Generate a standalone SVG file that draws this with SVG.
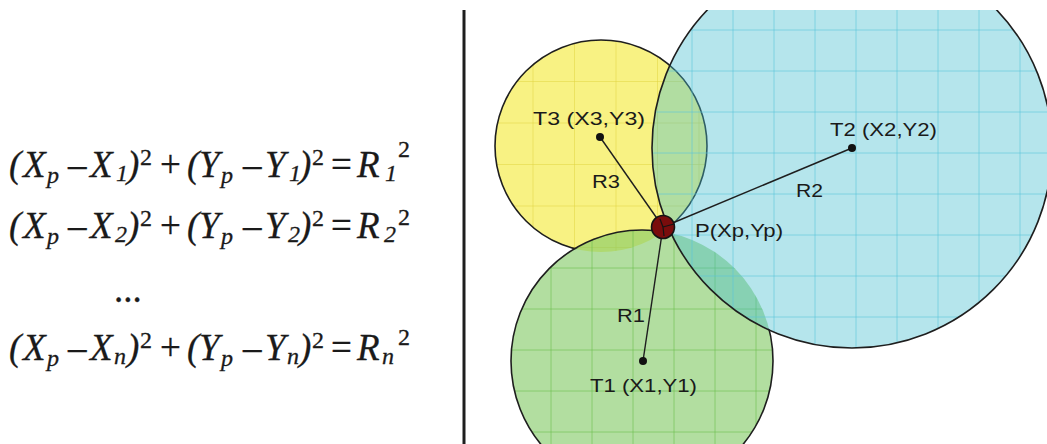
<svg xmlns="http://www.w3.org/2000/svg" width="1047" height="444" viewBox="0 0 1047 444">
<style>
.eq{font-family:"Liberation Serif","Times New Roman",serif;font-size:37px;fill:#1a1a1a;stroke:#1a1a1a;stroke-width:0.3}
.it{font-style:italic}
.sm{font-size:24px}
.lbl{font-family:"Liberation Sans",Arial,sans-serif;font-size:19px;fill:#1a1a1a}
.edge{fill:none;stroke:#1e1e1e;stroke-width:1.6}
.conn{stroke:#1e1e1e;stroke-width:1.4}
.dot{fill:#111}
</style>
<defs>
<clipPath id="clipTop"><rect x="466" y="10" width="581" height="434"/></clipPath>
<clipPath id="cY"><circle cx="601" cy="146" r="106"/></clipPath>
<clipPath id="cG"><circle cx="642" cy="361" r="131"/></clipPath>
<clipPath id="cB"><circle cx="852" cy="148" r="200"/></clipPath>
<mask id="notGreen"><rect x="0" y="0" width="1047" height="444" fill="#fff"/><circle cx="642" cy="361" r="130" fill="#000"/></mask>
<mask id="notBlue"><rect x="0" y="0" width="1047" height="444" fill="#fff"/><circle cx="852" cy="148" r="199" fill="#000"/></mask>
</defs>

<g id="equations">
<text class="eq">
<tspan class="it" x="9" y="177">(</tspan><tspan class="it" x="23" y="177">X</tspan><tspan class="it sm" x="47" y="183">p</tspan><tspan x="68" y="177">–</tspan><tspan class="it" x="90" y="177">X</tspan><tspan class="it sm" x="116" y="181">1</tspan><tspan class="it" x="127" y="177">)</tspan><tspan class="sm" x="140" y="165">2</tspan><tspan x="160" y="177">+</tspan><tspan class="it" x="187" y="177">(</tspan><tspan class="it" x="199" y="177">Y</tspan><tspan class="it sm" x="221" y="183">p</tspan><tspan x="243" y="177">–</tspan><tspan class="it" x="265" y="177">Y</tspan><tspan class="it sm" x="289" y="181">1</tspan><tspan class="it" x="299" y="177">)</tspan><tspan class="sm" x="312" y="165">2</tspan><tspan x="331" y="177">=</tspan><tspan class="it" x="357" y="177">R</tspan><tspan class="it sm" x="385" y="181">1</tspan><tspan class="sm" x="398" y="157">2</tspan>
</text>
<text class="eq">
<tspan class="it" x="9" y="238">(</tspan><tspan class="it" x="23" y="238">X</tspan><tspan class="it sm" x="47" y="244">p</tspan><tspan x="68" y="238">–</tspan><tspan class="it" x="90" y="238">X</tspan><tspan class="it sm" x="115" y="242">2</tspan><tspan class="it" x="127" y="238">)</tspan><tspan class="sm" x="140" y="226">2</tspan><tspan x="160" y="238">+</tspan><tspan class="it" x="187" y="238">(</tspan><tspan class="it" x="199" y="238">Y</tspan><tspan class="it sm" x="221" y="244">p</tspan><tspan x="243" y="238">–</tspan><tspan class="it" x="265" y="238">Y</tspan><tspan class="it sm" x="288" y="242">2</tspan><tspan class="it" x="299" y="238">)</tspan><tspan class="sm" x="312" y="226">2</tspan><tspan x="331" y="238">=</tspan><tspan class="it" x="357" y="238">R</tspan><tspan class="it sm" x="384" y="242">2</tspan><tspan class="sm" x="398" y="225">2</tspan>
</text>
<text class="eq" x="114" y="302" font-size="30">...</text>
<text class="eq">
<tspan class="it" x="9" y="360">(</tspan><tspan class="it" x="23" y="360">X</tspan><tspan class="it sm" x="47" y="366">p</tspan><tspan x="68" y="360">–</tspan><tspan class="it" x="90" y="360">X</tspan><tspan class="it sm" x="114" y="364">n</tspan><tspan class="it" x="127" y="360">)</tspan><tspan class="sm" x="140" y="348">2</tspan><tspan x="160" y="360">+</tspan><tspan class="it" x="187" y="360">(</tspan><tspan class="it" x="199" y="360">Y</tspan><tspan class="it sm" x="221" y="366">p</tspan><tspan x="243" y="360">–</tspan><tspan class="it" x="265" y="360">Y</tspan><tspan class="it sm" x="287" y="364">n</tspan><tspan class="it" x="299" y="360">)</tspan><tspan class="sm" x="312" y="348">2</tspan><tspan x="331" y="360">=</tspan><tspan class="it" x="357" y="360">R</tspan><tspan class="it sm" x="382" y="364">n</tspan><tspan class="sm" x="398" y="345">2</tspan>
</text>
</g>

<line id="divider" x1="464" y1="10" x2="464" y2="444" stroke="#1e1e1e" stroke-width="3"/>

<g clip-path="url(#clipTop)">
<g id="circle-t3">
<circle cx="601" cy="146" r="106" fill="#f8f283"/>
<path clip-path="url(#cY)" stroke="#e0d440" stroke-opacity="0.5" stroke-width="1" d="M491.5 30V260M533 30V260M574.5 30V260M616 30V260M657.5 30V260M699 30V260M480 40H720M480 81.5H720M480 123H720M480 164.5H720M480 206H720M480 247.5H720"/>
<circle class="edge" cx="601" cy="146" r="106" mask="url(#notGreen)"/>
</g>
<g id="circle-t1">
<circle cx="642" cy="361" r="131" fill="rgb(131,202,101)" fill-opacity="0.62"/>
<path clip-path="url(#cG)" stroke="#6cc04f" stroke-opacity="0.6" stroke-width="1" d="M510 220V444M551 220V444M592 220V444M633 220V444M674 220V444M715 220V444M756 220V444M500 227H780M500 268H780M500 309H780M500 350H780M500 391H780M500 432H780"/>
<circle class="edge" cx="642" cy="361" r="131" mask="url(#notBlue)"/>
</g>
<g id="circle-t2">
<circle cx="852" cy="148" r="200" fill="rgb(70,190,208)" fill-opacity="0.4"/>
<path clip-path="url(#cB)" stroke="#5cc4da" stroke-opacity="0.6" stroke-width="1" d="M651 0V360M692 0V360M733 0V360M774 0V360M815 0V360M856 0V360M897 0V360M938 0V360M979 0V360M1020 0V360M640 30H1060M640 71H1060M640 112H1060M640 153H1060M640 194H1060M640 235H1060M640 276H1060M640 317H1060"/>
<circle class="edge" cx="852" cy="148" r="200"/>
</g>
</g>

<g id="connectors">
<line class="conn" x1="663" y1="227" x2="600" y2="137"/>
<line class="conn" x1="663" y1="227" x2="852" y2="148"/>
<line class="conn" x1="663" y1="227" x2="643" y2="361"/>
</g>

<g id="node-t3"><circle class="dot" cx="600" cy="137" r="4"/><text class="lbl" x="533" y="125" textLength="112" lengthAdjust="spacingAndGlyphs">T3 (X3,Y3)</text></g>
<g id="node-t2"><circle class="dot" cx="852" cy="148" r="4"/><text class="lbl" x="830" y="136" textLength="107" lengthAdjust="spacingAndGlyphs">T2 (X2,Y2)</text></g>
<g id="node-t1"><circle class="dot" cx="643" cy="361" r="4"/><text class="lbl" x="590" y="392" textLength="107" lengthAdjust="spacingAndGlyphs">T1 (X1,Y1)</text></g>
<g id="labels">
<text class="lbl" x="592" y="188" textLength="28" lengthAdjust="spacingAndGlyphs">R3</text>
<text class="lbl" x="796" y="197" textLength="27" lengthAdjust="spacingAndGlyphs">R2</text>
<text class="lbl" x="617" y="322" textLength="28" lengthAdjust="spacingAndGlyphs">R1</text>
</g>
<g id="node-p">
<circle cx="663" cy="227" r="11.5" fill="#7a0c0c" stroke="#141414" stroke-width="1.6"/>
<path d="M663 227L660 219M663 227L674 224M663 227L664 236" stroke="#141414" stroke-width="1.2" fill="none"/>
<text class="lbl" x="695" y="237" textLength="88" lengthAdjust="spacingAndGlyphs">P(Xp,Yp)</text>
</g>
</svg>
